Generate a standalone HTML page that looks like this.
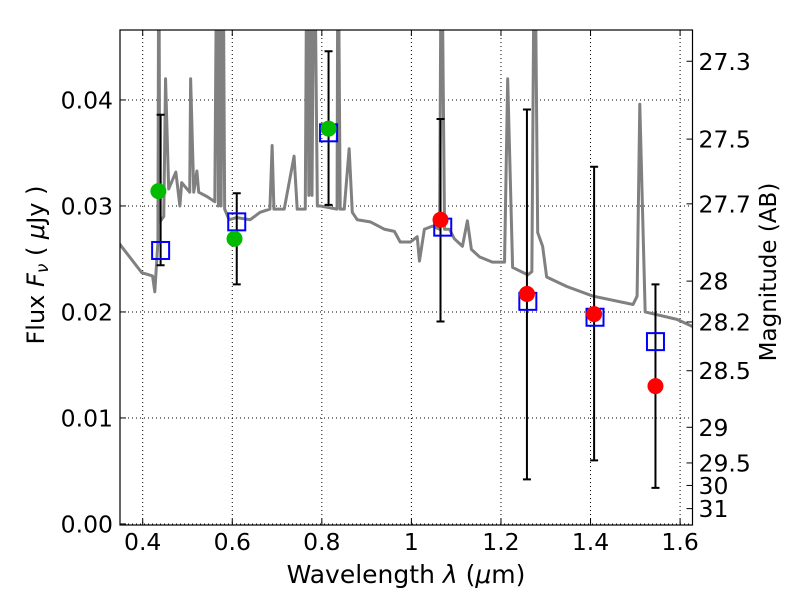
<!DOCTYPE html>
<html><head><meta charset="utf-8"><style>
body{margin:0;background:#fff}
svg text{font-family:"DejaVu Sans","Liberation Sans",sans-serif}
</style></head><body>
<svg id="chart" width="800" height="600" xmlns="http://www.w3.org/2000/svg">
<rect width="800" height="600" fill="#fff"/>
<g id="grid"></g><g id="spec"></g><g id="err"></g><g id="marks"></g><g id="axes"></g>
<text x="406" y="583" font-size="25" text-anchor="middle">Wavelength  <tspan font-style="italic">λ</tspan> (<tspan font-style="italic">μ</tspan>m)</text>
<text transform="translate(44,265) rotate(-90)" font-size="24" text-anchor="middle">Flux  <tspan font-style="italic">F<tspan font-size="17" dy="4">ν</tspan></tspan><tspan dy="-4">  ( </tspan><tspan font-style="italic">μ</tspan>Jy )</text>
<text transform="translate(776,272) rotate(-90)" font-size="23" text-anchor="middle">Magnitude (AB)</text>
</svg>
<script>
const xTicks=[0.4,0.6,0.8,1.0,1.2,1.4,1.6];
const xTickLabels=["0.4","0.6","0.8","1","1.2","1.4","1.6"];
const yTicks=[0,0.01,0.02,0.03,0.04];
const yTickLabels=["0.00","0.01","0.02","0.03","0.04"];
const magTicks=[27.3,27.5,27.7,28,28.2,28.5,29,29.5,30,31];
const specWave=[0.345,0.398,0.422,0.427,0.434,0.436,0.438,0.447,0.451,0.458,0.474,0.483,0.487,0.505,0.507,0.514,0.521,0.525,0.543,0.561,0.566,0.569,0.572,0.575,0.579,0.583,0.593,0.610,0.640,0.662,0.684,0.689,0.693,0.716,0.738,0.745,0.763,0.767,0.771,0.774,0.778,0.783,0.790,0.796,0.834,0.836,0.841,0.850,0.861,0.868,0.879,0.908,0.940,0.962,0.975,0.998,1.013,1.018,1.029,1.047,1.063,1.067,1.074,1.085,1.096,1.114,1.125,1.134,1.152,1.181,1.208,1.215,1.226,1.260,1.269,1.275,1.282,1.293,1.302,1.347,1.405,1.495,1.504,1.510,1.522,1.593,1.629];
const specFlux=[0.0266,0.0237,0.0234,0.0219,0.0266,0.06,0.0285,0.0290,0.0420,0.0316,0.0332,0.0300,0.0322,0.0313,0.0420,0.0313,0.0333,0.0313,0.0309,0.0304,0.06,0.030,0.06,0.030,0.06,0.0297,0.0287,0.0289,0.0287,0.0294,0.0297,0.0357,0.0297,0.0297,0.0347,0.0297,0.0297,0.06,0.031,0.06,0.031,0.06,0.030,0.0300,0.0297,0.06,0.0297,0.0297,0.0354,0.0294,0.0287,0.0285,0.0278,0.0276,0.0266,0.0266,0.0271,0.0248,0.0278,0.0281,0.0278,0.06,0.0278,0.0278,0.0269,0.0262,0.0286,0.0259,0.0252,0.0247,0.0247,0.0420,0.0242,0.0235,0.0238,0.06,0.0275,0.0262,0.0233,0.0224,0.0215,0.0207,0.0215,0.0396,0.0200,0.0193,0.0186];
const greenWave=[0.435,0.605,0.815];
const greenFlux=[0.0314,0.0269,0.0373];
const redWave=[1.065,1.258,1.408,1.545];
const redFlux=[0.0287,0.0217,0.0198,0.0130];
const modelWave=[0.44,0.61,0.815,1.07,1.26,1.41,1.545];
const modelFlux=[0.0258,0.0285,0.0369,0.0280,0.0210,0.0195,0.0172];
const errWave=[0.44,0.61,0.815,1.065,1.258,1.408,1.545];
const errLow=[0.0244,0.0226,0.0301,0.0191,0.0042,0.0060,0.0034];
const errHigh=[0.0386,0.0312,0.0446,0.0382,0.0391,0.0337,0.0226];

const L=120,R=692.5,T=30,B=525;
const X0=0.3493,X1=1.6277,Y0=-0.0001,Y1=0.0466;
const sx=v=>L+(v-X0)/(X1-X0)*(R-L);
const sy=v=>B-(v-Y0)/(Y1-Y0)*(B-T);
const NS="http://www.w3.org/2000/svg";
function mk(tag,parent,attrs){const e=document.createElementNS(NS,tag);for(const k in attrs)e.setAttribute(k,attrs[k]);document.getElementById(parent).appendChild(e);return e;}

xTicks.forEach((t,i)=>{const x=sx(t);
 const g=mk('line','grid',{x1:x,x2:x,y1:T,y2:B,stroke:'#000','stroke-dasharray':'1,3','stroke-width':1});
 
 
 const a=mk('line','axes',{x1:x,x2:x,y1:B,y2:B-6,stroke:'#000'});
 
 
 const b=mk('line','axes',{x1:x,x2:x,y1:T,y2:T+6,stroke:'#000'});
 
 
 const tx=mk('text','axes',{x:x,y:B+25,'font-size':23.5,'text-anchor':'middle'});tx.textContent=xTickLabels[i];
 
 
});
yTicks.forEach((t,i)=>{const y=sy(t);
 const g=mk('line','grid',{x1:L,x2:R,y1:y,y2:y,stroke:'#000','stroke-dasharray':'1,3','stroke-width':1});
 
 
 const a=mk('line','axes',{x1:L,x2:L+6,y1:y,y2:y,stroke:'#000'});
 
 
 const tx=mk('text','axes',{x:L-7,y:y+8.5,'font-size':23.5,'text-anchor':'end'});tx.textContent=yTickLabels[i];
 
 
});
magTicks.forEach(m=>{const f=Math.pow(10,(23.9-m)/2.5);const y=sy(f);
 const a=mk('line','axes',{x1:R,x2:R-6,y1:y,y2:y,stroke:'#000'});
 
 
 const tx=mk('text','axes',{x:R+6,y:y+8.5,'font-size':23.5});tx.textContent=String(m);
 
 
});
const fr=mk('rect','axes',{x:L,y:T,width:R-L,height:B-T,fill:'none',stroke:'#000','stroke-width':1.2});



const cp=mk('clipPath','spec',{id:'clip'});
const cr=document.createElementNS(NS,'rect');
cr.setAttribute('x',L);cr.setAttribute('y',T);cr.setAttribute('width',R-L);cr.setAttribute('height',B-T);
cp.appendChild(cr);
const sp=mk('polyline','spec',{points:specWave.map((w,i)=>sx(w)+','+sy(specFlux[i])).join(' '),fill:'none',stroke:'#808080','stroke-width':3,'stroke-linejoin':'round','clip-path':'url(#clip)'});



errWave.forEach((w,i)=>{const x=sx(w),y1=sy(errLow[i]),y2=sy(errHigh[i]);
 const l=mk('path','err',{d:`M${x},${y1}V${y2}M${x-4},${y1}H${x+4}M${x-4},${y2}H${x+4}`,stroke:'#000','stroke-width':2,fill:'none'});
 
 
});
modelWave.forEach((w,i)=>{
 const r=mk('rect','marks',{x:sx(w)-8.5,y:sy(modelFlux[i])-8.5,width:17,height:17,fill:'none',stroke:'#0000ff','stroke-width':2});
 
 
});
greenWave.forEach((w,i)=>{
 const c=mk('circle','marks',{cx:sx(w),cy:sy(greenFlux[i]),r:8,fill:'#00bb00'});
 
 
});
redWave.forEach((w,i)=>{
 const c=mk('circle','marks',{cx:sx(w),cy:sy(redFlux[i]),r:8,fill:'#ff0000'});
 
 
});
</script>
</body></html>
